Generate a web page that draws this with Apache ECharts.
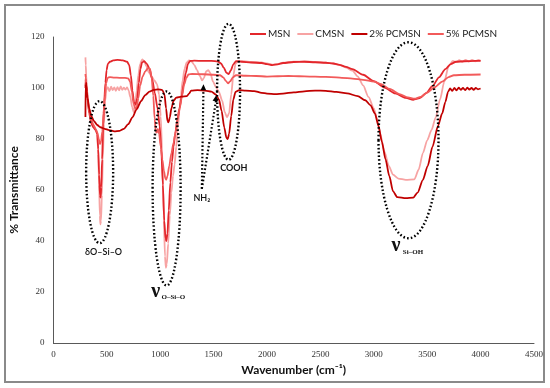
<!DOCTYPE html>
<html>
<head>
<meta charset="utf-8">
<script src="https://cdn.jsdelivr.net/npm/echarts@6/dist/echarts.min.js"></script>
<style>html,body{margin:0;padding:0;background:#fff;}#c{width:550px;height:388px;}</style>
</head>
<body>
<div id="c"></div>
<script>
// ---- data (wavenumber cm-1, % transmittance) ----
const seriesNames = ['MSN', 'CMSN', '2% PCMSN', '5% PCMSN'];
const xTicks = [0, 500, 1000, 1500, 2000, 2500, 3000, 3500, 4000, 4500];
const yTicks = [0, 20, 40, 60, 80, 100, 120];

const msn = [[300,100],[302,103.5],[304,99],[306,102],[309,98.5],[313,100],[320,96],[335,90],[355,86],[375,84.5],[395,83.5],[410,82],[420,76],[428,66],[436,58],[442,57],[448,61],[456,72],[465,84],[475,94],[487,102],[498,107],[510,109.5],[530,110.3],[560,110.8],[600,111],[650,110.8],[690,110.3],[710,109],[725,105],[740,99],[755,94.5],[770,93.5],[785,96],[800,102],[815,107.5],[830,110],[850,110.5],[875,109.5],[900,107.5],[925,103.5],[950,98],[975,92],[995,85],[1010,76],[1025,62],[1038,48],[1050,41],[1058,40],[1068,43],[1080,52],[1095,63],[1110,71],[1125,77],[1140,82],[1160,87.5],[1180,92],[1200,96.5],[1220,101.5],[1240,106],[1260,109.5],[1280,110.6],[1320,110.7],[1400,110.6],[1480,110.6],[1540,110.4],[1570,109.6],[1595,108],[1620,106],[1640,105.5],[1660,106.8],[1685,109.3],[1710,110.5],[1760,110.3],[1850,110],[1950,109.8],[2000,109.4],[2050,109],[2100,109.3],[2150,109.8],[2250,110.2],[2350,110.3],[2450,110.1],[2550,109.9],[2620,109.6],[2680,109.1],[2740,108.3],[2800,107.4],[2900,105.2],[3000,102.7],[3100,100.2],[3200,97.9],[3300,96.1],[3370,95.4],[3430,96],[3490,98],[3550,100.8],[3610,104.2],[3670,107.4],[3720,109.4],[3770,110.3],[3850,110.5],[3950,110.6],[4000,110.6]];

const cmsn = [[300,112],[303,109],[307,105],[312,101],[320,96.5],[335,91.5],[355,87.5],[375,85],[395,84],[410,82.5],[420,74],[428,62],[435,50],[440,46.5],[446,48],[454,58],[463,72],[473,86],[485,95],[497,99.5],[510,100.3],[525,98.8],[540,100.5],[555,99.2],[570,100.2],[585,98.9],[600,100.3],[615,99.1],[630,100.6],[645,99.3],[660,100.1],[675,99.4],[690,100.2],[705,99],[720,96.5],[738,92.5],[752,90.5],[766,93.5],[780,99],[795,105],[812,109.5],[832,111.2],[850,110.5],[870,108.5],[895,106],[920,104.5],[945,103],[970,101.5],[990,97.5],[1005,89],[1020,72],[1033,50],[1045,34],[1053,29.5],[1062,31],[1075,39],[1090,50],[1105,59],[1120,65.5],[1135,70],[1150,77],[1165,84.5],[1180,91],[1195,97.5],[1210,103],[1228,107.5],[1248,110],[1270,110.8],[1295,110.3],[1320,109],[1345,107],[1370,104.8],[1393,103],[1410,104],[1430,106.5],[1450,107],[1470,105.8],[1495,102.5],[1520,100.5],[1550,98.5],[1580,95],[1605,90.5],[1625,88.5],[1645,90],[1665,97.5],[1685,105],[1705,109.5],[1730,110.6],[1780,110.5],[1850,110.2],[1950,110],[2000,109.6],[2050,109.2],[2100,109.4],[2150,109.9],[2250,110.3],[2350,110.4],[2450,110.2],[2550,109.9],[2620,109.6],[2680,109],[2740,108],[2800,106.8],[2850,104.5],[2900,101],[2950,96.5],[3000,92],[3030,88],[3060,82],[3100,75],[3140,69.5],[3180,66],[3230,64.5],[3300,64],[3380,64.2],[3420,68],[3460,74.5],[3500,79.5],[3540,83.5],[3580,88.5],[3620,95.5],[3660,102.5],[3700,108.5],[3740,110.6],[3770,110.2],[3800,110.9],[3830,110.3],[3860,111],[3890,110.4],[3920,111],[3950,110.5],[3980,111],[4000,110.7]];

const pcmsn2 = [[300,88.6],[302,101.5],[305,100],[308,102],[312,98.5],[320,96],[335,92],[355,89],[380,87],[410,85.5],[440,84.6],[480,84],[520,83.5],[570,83],[620,83.2],[660,84],[700,85.8],[740,88.5],[780,91.7],[820,94.8],[860,97.2],[900,98.6],[940,99.3],[980,99.5],[1020,99.2],[1040,97.5],[1055,92],[1068,87],[1078,86.5],[1090,88.5],[1105,92],[1125,95],[1150,96.2],[1200,96.6],[1250,96.8],[1270,97.8],[1290,99],[1350,99.2],[1420,99],[1480,98.6],[1520,97.5],[1550,95.5],[1575,91],[1600,84.5],[1620,80.5],[1632,80],[1645,82],[1665,89],[1685,95.5],[1705,98.5],[1740,99.2],[1800,99],[1880,98.8],[1950,98.1],[2000,97.8],[2080,97.6],[2150,97.8],[2250,98.3],[2350,98.7],[2450,99],[2550,98.9],[2650,98.5],[2750,97.9],[2850,96.8],[2920,95.2],[2970,93.2],[3010,90],[3045,85],[3075,79],[3110,72],[3145,65.5],[3180,59.5],[3220,57.2],[3300,56.8],[3370,57],[3410,59],[3460,64],[3505,69.5],[3550,77],[3600,85],[3640,90],[3670,94.5],[3695,98.5],[3715,99.8],[3735,98.9],[3755,100],[3775,99.1],[3795,100.1],[3815,99.3],[3835,100],[3855,99.2],[3875,100.1],[3895,99.4],[3915,100],[3935,99.3],[3955,100],[3975,99.5],[4000,99.8]];

const pcmsn5 = [[300,105.5],[303,104],[307,101],[312,98],[320,95],[335,91],[355,87.5],[375,85.5],[395,84],[412,82.5],[425,80],[436,78],[446,79],[458,83],[470,90],[482,97],[495,102],[508,104],[530,104.3],[570,104.1],[620,104],[670,104],[700,103.8],[718,102.5],[735,98.5],[750,94],[765,92],[780,92.5],[795,96],[812,101],[835,104.5],[860,106.5],[885,107.8],[905,107.5],[920,104],[935,97],[948,88],[958,83],[968,82.5],[978,84],[990,82],[1005,77],[1020,72],[1035,67.5],[1048,64.5],[1056,64],[1068,65.5],[1085,69.5],[1105,74.5],[1125,78.5],[1145,83],[1165,88],[1185,92.5],[1205,97],[1225,101.5],[1245,104],[1265,105.3],[1300,105.5],[1400,105.4],[1500,105.2],[1560,105],[1590,104.2],[1615,102.8],[1635,101.8],[1655,102.6],[1680,104.2],[1710,105],[1800,104.8],[1900,104.7],[2000,104.5],[2100,104.6],[2200,104.7],[2300,104.6],[2400,104.5],[2500,104.4],[2600,104.3],[2700,104],[2800,103.7],[2900,103.2],[3000,102.5],[3070,101.5],[3150,99.6],[3240,97.6],[3320,96.3],[3380,95.8],[3440,96.5],[3500,98.2],[3570,100.3],[3640,102.5],[3700,104.3],[3750,105],[3850,105.2],[4000,105.3]];

// annotation anchors in data space [wavenumber, %T]
const ellipseAnchors = [[433, 67], [1060, 60.6], [1640, 98.5], [3325, 79.5]];

const colors = ['#e3262b', '#f7a3a3', '#c00000', '#f25a5a'];
const chart = echarts.init(document.getElementById('c'), null, {renderer: 'canvas'});

function mk(name, data, color, z) {
  return {name: name, type: 'line', data: data, showSymbol: false, symbol: 'none',
    smooth: 0.25, smoothMonotone: 'x', z: z,
    lineStyle: {color: color, width: 1.8}, itemStyle: {color: color}};
}

const serif = '"Liberation Serif", "DejaVu Serif", serif';
chart.setOption({
  animation: false,
  backgroundColor: '#fff',
  grid: {left: 50, right: 16, top: 37, bottom: 45},
  legend: {
    data: seriesNames, left: 245, top: 24, icon: 'rect', itemWidth: 16, itemHeight: 2,
    itemGap: 7, textStyle: {fontSize: 10, fontFamily: 'Lato', color: '#222', padding: [0, 0, 0, -3]}
  },
  xAxis: {
    type: 'value', min: 0, max: 4500, interval: 500,
    name: 'Wavenumber (cm\u207B\u00B9)', nameLocation: 'middle', nameGap: 20,
    nameTextStyle: {fontSize: 12, fontWeight: 'bold', fontFamily: 'Lato', color: '#111'},
    axisLine: {lineStyle: {color: '#595959', width: 1}},
    axisTick: {show: false}, splitLine: {show: false},
    axisLabel: {fontSize: 9, fontFamily: serif, color: '#333', margin: 7,
      formatter: v => xTicks.includes(v) ? String(v) : ''}
  },
  yAxis: {
    type: 'value', min: 0, max: 120, interval: 20,
    name: '% Transmittance', nameLocation: 'middle', nameGap: 26, nameRotate: 90,
    nameTextStyle: {fontSize: 12, fontWeight: 'bold', fontFamily: 'Lato', color: '#111'},
    axisLine: {show: true, lineStyle: {color: '#595959', width: 1}},
    axisTick: {show: false}, splitLine: {show: false},
    axisLabel: {fontSize: 9, fontFamily: serif, color: '#333', margin: 9,
      formatter: v => yTicks.includes(v) ? String(v) : ''}
  },
  series: [
    mk(seriesNames[0], msn, colors[0], 3),
    mk(seriesNames[1], cmsn, colors[1], 2),
    mk(seriesNames[2], pcmsn2, colors[2], 4),
    mk(seriesNames[3], pcmsn5, colors[3], 3)
  ]
});

// ---- annotations ----
const P = d => chart.convertToPixel({gridIndex: 0}, d);
const dot = {stroke: '#000', fill: null, lineWidth: 2.4, lineDash: [1.6, 2.2]};
const radii = [[13.5, 71], [14, 97], [11.5, 68], [30, 98]];
const g = [];
// frame
g.push({type: 'rect', shape: {x: 5, y: 5, width: 539, height: 377}, style: {fill: null, stroke: '#8a8a8a', lineWidth: 2}, z: 1});
ellipseAnchors.forEach((a, i) => {
  const p = P(a);
  g.push({type: 'ellipse', shape: {cx: p[0], cy: p[1], rx: radii[i][0], ry: radii[i][1]}, style: dot, z: 10});
});
// NH2 arrows: from the label up to the bands they mark
const nhBase = P([1390, 60.5]);
const tip1 = P([1405, 101.5]);
const tip2 = P([1525, 97.2]);
[tip1, tip2].forEach(t => {
  g.push({type: 'line', shape: {x1: nhBase[0], y1: nhBase[1], x2: t[0], y2: t[1] + 4}, style: {stroke: '#000', lineWidth: 2.2, lineDash: [1.6, 2.2]}, z: 10});
  const dx = t[0] - nhBase[0], dy = t[1] - nhBase[1];
  const L = Math.sqrt(dx * dx + dy * dy), ux = dx / L, uy = dy / L;
  const bx = t[0] - ux * 6, by = t[1] - uy * 6;
  g.push({type: 'polygon', shape: {points: [[t[0], t[1]], [bx - uy * 2.8, by + ux * 2.8], [bx + uy * 2.8, by - ux * 2.8]]}, style: {fill: '#000'}, z: 11});
});
const sans = 'Lato, "Open Sans", sans-serif';
function txt(d, text, font, opts) {
  const p = P(d);
  g.push(Object.assign({type: 'text', x: p[0], y: p[1], style: Object.assign({text: text, font: font, fill: '#111', align: 'center', verticalAlign: 'middle'}, opts || {}), z: 12}));
}
txt([470, 35.5], '\u03B4O\u2013Si\u2013O', '600 9px ' + sans);
txt([1390, 57], 'NH\u2082', '600 9px ' + sans);
txt([1690, 68.5], 'COOH', 'bold 9px ' + sans);
txt([957, 20], '\u03BD', 'bold 20px ' + serif);
txt([1012, 18], 'O\u2013Si\u2013O', 'bold 7px ' + serif, {align: 'left'});
txt([3207, 38], '\u03BD', 'bold 20px ' + serif);
txt([3272, 35.5], 'Si\u2013OH', 'bold 7px ' + serif, {align: 'left'});
chart.setOption({graphic: {elements: g}});
</script>
</body>
</html>
